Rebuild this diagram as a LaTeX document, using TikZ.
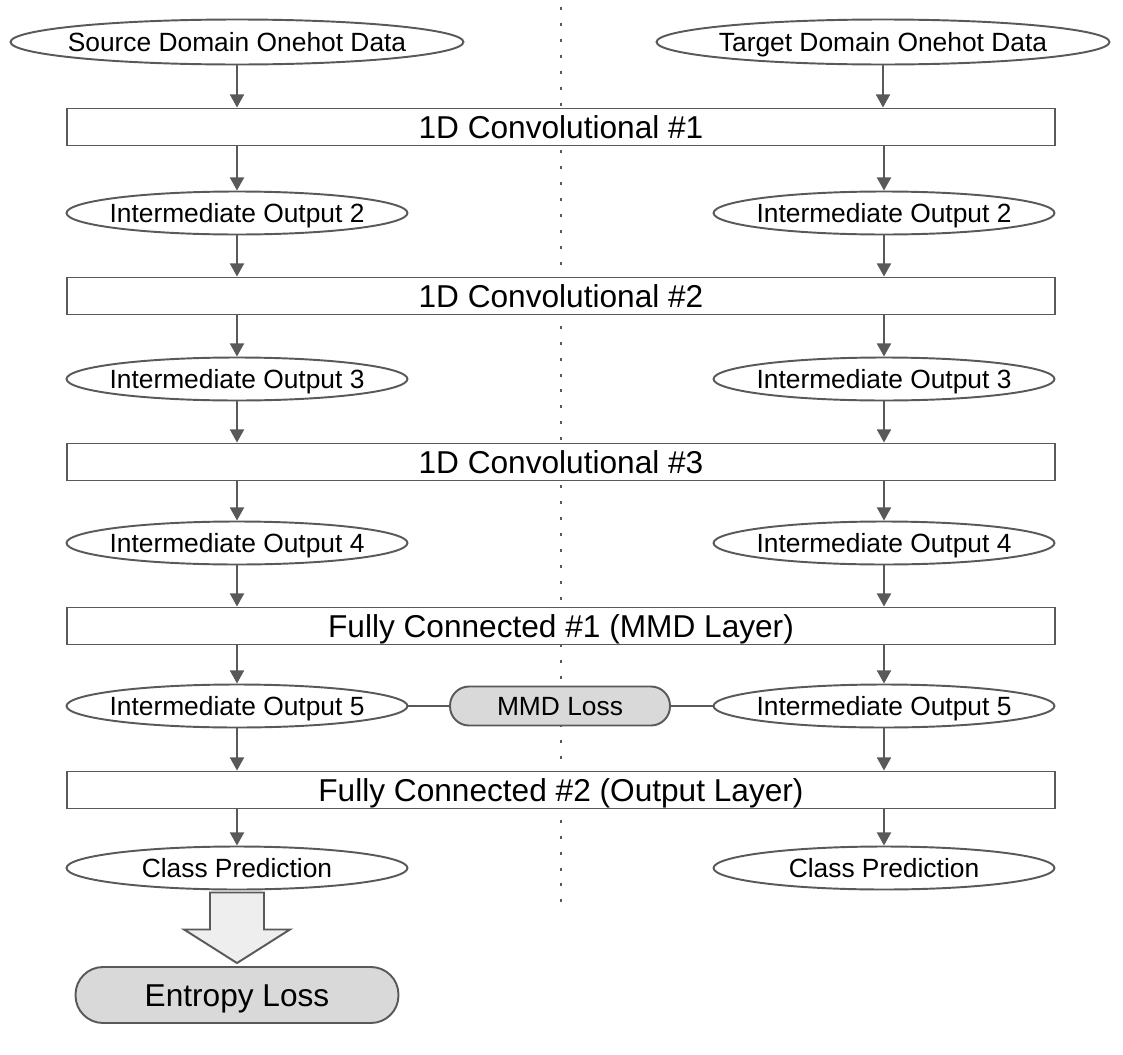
\documentclass[tikz,border=0pt]{standalone}
\usepackage{fontspec}
\setmainfont{Liberation Sans}
\usepackage{tikz}
\usetikzlibrary{positioning,arrows.meta,shapes.geometric,calc}
\definecolor{cline}{HTML}{595959}
\definecolor{closs}{HTML}{D9D9D9}
\definecolor{cbig}{HTML}{EEEEEE}
\tikzset{
  small/.style={font=\fontsize{15}{18}\selectfont, text height=10.7pt, text depth=0pt},
  large/.style={font=\fontsize{18}{21}\selectfont, text height=12.9pt, text depth=0pt},
  data/.style={ellipse, draw=cline, fill=white, line width=1.1pt, inner ysep=0pt, inner xsep=-1.2cm,
               minimum width=9.06cm, minimum height=0.9cm, small},
  inter/.style={ellipse, draw=cline, fill=white, line width=1.1pt, inner ysep=0pt, inner xsep=-1.2cm,
                minimum width=6.82cm, minimum height=0.86cm, small},
  layer/.style={rectangle, draw=cline, fill=white, line width=1.1pt, inner sep=0pt,
                minimum width=19.76cm, minimum height=0.74cm, large},
  loss/.style={rectangle, rounded corners=0.38cm, draw=cline, fill=closs, line width=1.1pt,
               inner sep=0pt, minimum width=4.4cm, minimum height=0.78cm, small},
  flow/.style={-{Triangle[length=7.5pt,width=8pt]}, line width=1.1pt, draw=cline},
  link/.style={line width=1.1pt, draw=cline}
}

\begin{document}
\begin{tikzpicture}[x=0.02cm, y=-0.02cm]
\useasboundingbox (0,0) rectangle (1123,1055);
% divider between the two domains
\draw[cline, line width=1.7pt, dash pattern=on 1.7pt off 7.37pt] (561,7) -- (561,906);

\node[data] (srcin) at (237,42) {Source Domain Onehot Data};
\node[data] (tgtin) at (883,42) {Target Domain Onehot Data};
\node[layer] (conv1) at (561,127) {1D Convolutional \#1};
\node[inter] (s2) at (237,213) {Intermediate Output 2};
\node[inter] (t2) at (884,213) {Intermediate Output 2};
\node[layer] (conv2) at (561,296) {1D Convolutional \#2};
\node[inter] (s3) at (237,379) {Intermediate Output 3};
\node[inter] (t3) at (884,379) {Intermediate Output 3};
\node[layer] (conv3) at (561,462) {1D Convolutional \#3};
\node[inter] (s4) at (237,543) {Intermediate Output 4};
\node[inter] (t4) at (884,543) {Intermediate Output 4};
\node[layer] (fc1) at (561,626) {Fully Connected \#1 (MMD Layer)};
\node[inter] (s5) at (237,706) {Intermediate Output 5};
\node[inter] (t5) at (884,706) {Intermediate Output 5};
\node[loss] (mmd) at (560,706) {MMD Loss};
\node[layer] (fc2) at (561,790) {Fully Connected \#2 (Output Layer)};
\node[inter] (spred) at (237,868) {Class Prediction};
\node[inter] (tpred) at (884,868) {Class Prediction};
\node[loss, rounded corners=0.55cm, minimum width=6.46cm, minimum height=1.12cm, large]
  (ent) at (237,995) {Entropy Loss};

% source side
\draw[flow] (srcin.south) -- (srcin.south |- conv1.north);
\draw[flow] (s2.north |- conv1.south) -- (s2.north);
\draw[flow] (s2.south) -- (s2.south |- conv2.north);
\draw[flow] (s3.north |- conv2.south) -- (s3.north);
\draw[flow] (s3.south) -- (s3.south |- conv3.north);
\draw[flow] (s4.north |- conv3.south) -- (s4.north);
\draw[flow] (s4.south) -- (s4.south |- fc1.north);
\draw[flow] (s5.north |- fc1.south) -- (s5.north);
\draw[flow] (s5.south) -- (s5.south |- fc2.north);
\draw[flow] (spred.north |- fc2.south) -- (spred.north);
% target side
\draw[flow] (tgtin.south) -- (tgtin.south |- conv1.north);
\draw[flow] (t2.north |- conv1.south) -- (t2.north);
\draw[flow] (t2.south) -- (t2.south |- conv2.north);
\draw[flow] (t3.north |- conv2.south) -- (t3.north);
\draw[flow] (t3.south) -- (t3.south |- conv3.north);
\draw[flow] (t4.north |- conv3.south) -- (t4.north);
\draw[flow] (t4.south) -- (t4.south |- fc1.north);
\draw[flow] (t5.north |- fc1.south) -- (t5.north);
\draw[flow] (t5.south) -- (t5.south |- fc2.north);
\draw[flow] (tpred.north |- fc2.south) -- (tpred.north);
% mmd links
\draw[link] (s5.east) -- (mmd.west);
\draw[link] (mmd.east) -- (t5.west);

% block arrow to entropy loss
\draw[cline, fill=cbig, line width=1.1pt]
  ($(spred.south)+(-27,2)$) -- ($(spred.south)+(27,2)$) -- ++(0,37) -- ++(26,0)
  -- ($(ent.north)+(0,-3)$) -- ($(spred.south)+(-53,39)$) -- ++(26,0) -- cycle;
\end{tikzpicture}
\end{document}
